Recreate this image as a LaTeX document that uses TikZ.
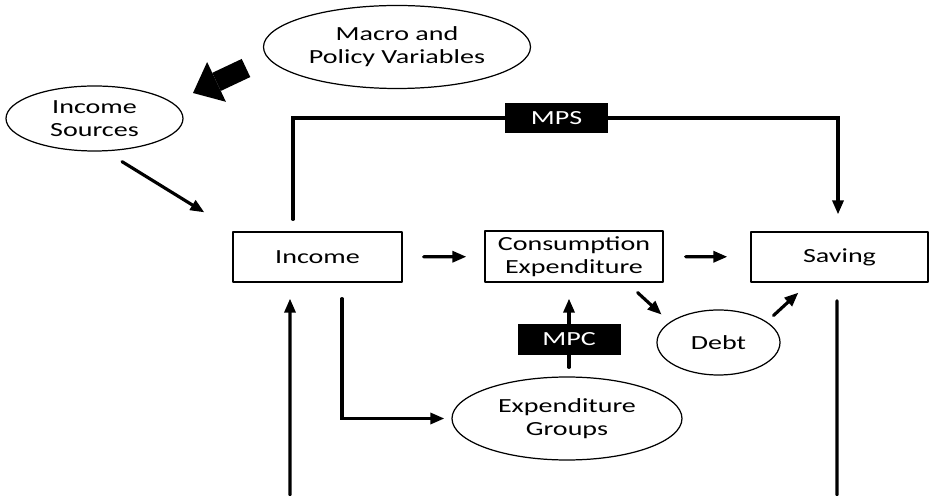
\documentclass[tikz,border=0pt]{standalone}
\usepackage{fontspec}
\setmainfont{Carlito}[FakeStretch=1.4]
\usetikzlibrary{arrows.meta,shapes.geometric}
\tikzset{
  every picture/.style={line join=round, line cap=round, >={Triangle[length=0.28cm,width=0.22cm]}},
  every node/.style={font=\fontsize{11.4pt}{13.1pt}\selectfont, align=center, inner sep=0pt},
  box/.style={draw, line width=0.7pt, minimum width=#1, minimum height=1cm},
  oval/.style 2 args={ellipse, draw, line width=0.7pt, minimum width=#1, minimum height=#2},
  tag/.style={fill=black, text=white, minimum width=2.06cm, minimum height=0.6cm},
  flow/.style={line width=1.8pt, line join=miter},
}
\begin{document}
\begin{tikzpicture}
\useasboundingbox (0,0) rectangle (18.62,9.9);
% nodes
\node[oval={5.34cm}{1.66cm}] (macro) at (7.94,8.96) {Macro and\\Policy Variables};
\node[oval={3.54cm}{1.3cm}] (incsrc) at (1.89,7.53) {Income\\Sources};
\node[box=3.38cm] (income) at (6.35,4.76) {Income};
\node[box=3.56cm, minimum height=1.02cm] (cons) at (11.48,4.77) {Consumption\\Expenditure};
\node[box=3.54cm] (saving) at (16.79,4.76) {Saving};
\node[oval={2.46cm}{1.3cm}] (debt) at (14.37,3.05) {Debt};
\node[oval={4.6cm}{1.66cm}] (expgrp) at (11.34,1.53) {Expenditure\\Groups};
\node[tag] (mps) at (11.13,7.54) {MPS};
% free ends
\coordinate (fattail) at (4.92,8.54);
\coordinate (fattip) at (3.86,8.04);
\coordinate (inbot) at (5.8,0);
\coordinate (svbot) at (16.74,0);
% connectors
\draw[line width=0.4cm, line cap=butt, -{Triangle[length=0.52cm,width=0.88cm,line width=0pt]}] (fattail) -- (fattip);
\draw[flow,->] ([shift={(0.55,-0.2)}]incsrc.south) -- ([shift={(-0.56,0.38)}]income.north west);
\draw[flow,->,shorten <=0.42cm,shorten >=0.36cm] (income) -- (cons);
\draw[flow,->,shorten <=0.44cm,shorten >=0.46cm] (cons) -- (saving);
\draw[flow,->] ([shift={(-0.52,-0.2)}]cons.south east) -- ([shift={(-0.26,0.09)}]debt.north west);
\draw[flow,->] ([shift={(0.22,0.07)}]debt.north east) -- ([shift={(0.96,-0.2)}]saving.south west);
\draw[flow,->] ([shift={(-0.49,0.24)}]income.north) |- (mps) -| ([shift={(-0.03,0.34)}]saving.north);
\draw[flow,->] ([shift={(0.04,0.18)}]expgrp.north) -- node[tag, pos=0.41, minimum height=0.62cm] (mpc) {MPC} ([shift={(-0.1,-0.32)}]cons.south);
\draw[flow,->,shorten >=0.14cm] ([shift={(0.49,-0.32)}]income.south) |- (expgrp);
\draw[flow,->] (inbot) -- ([shift={(-0.55,-0.32)}]income.south);
\draw[flow] ([shift={(-0.05,-0.36)}]saving.south) -- (svbot);
\end{tikzpicture}
\end{document}
